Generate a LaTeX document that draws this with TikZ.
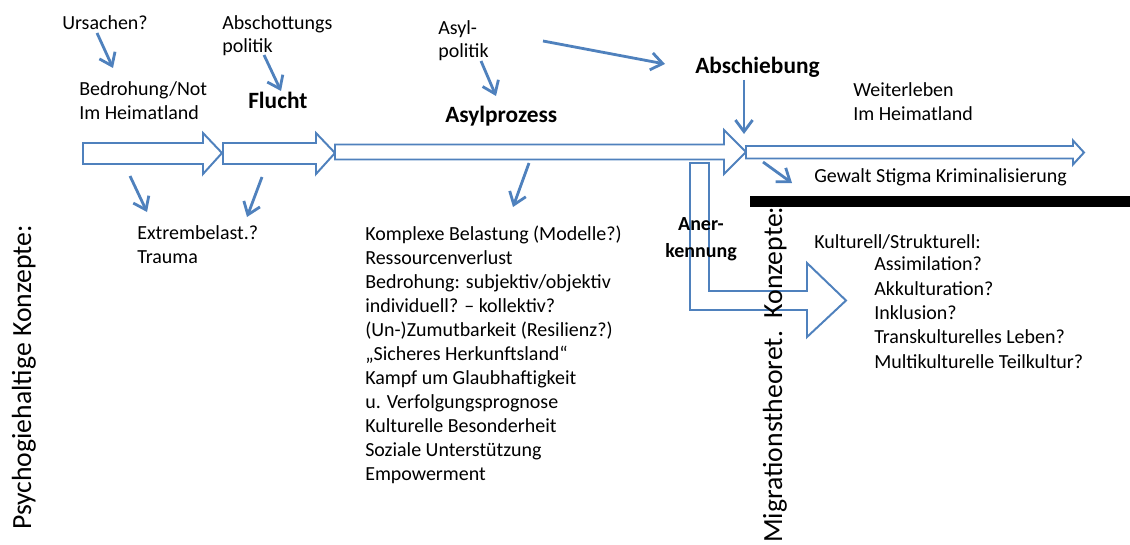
\documentclass[tikz,border=0pt]{standalone}
\usepackage{fontspec}
\setmainfont{Carlito}
\usetikzlibrary{arrows.meta}
\definecolor{cArrow}{HTML}{4F81BD}
\tikzset{
  txt/.style={anchor=base west, inner sep=0pt, align=left,
    font=\fontsize{14.2}{17}\selectfont},
  stage/.style={txt, font=\fontsize{16.6}{19}\selectfont\bfseries},
  side/.style={anchor=base west, inner sep=0pt, rotate=90,
    font=\fontsize{19.7}{22}\selectfont},
  block/.style={draw=cArrow, line width=1.4pt, miter limit=20},
  flow/.style={-{Straight Barb[length=2.9mm, width=4.3mm]}, draw=cArrow, line width=2pt},
}
\begin{document}
\begin{tikzpicture}[x=0.025cm, y=-0.025cm]
    \useasboundingbox (0,0) rectangle (1130,545);
    % block arrows: Heimatland | Flucht | Asylprozess | after Abschiebung
    \draw[block, fill=white] (83,143) -- (203,143) -- (203,133) -- (222,153) -- (203,174) -- (203,164) -- (83,164) -- cycle;
    \draw[block, fill=white] (223,143) -- (316,143) -- (316,133) -- (335,153) -- (316,174) -- (316,164) -- (223,164) -- cycle;
    \draw[block, fill=white] (335,144.5) -- (724,144.5) -- (724,130) -- (746,152) -- (724,174) -- (724,159.5) -- (335,159.5) -- cycle;
    \draw[block, fill=white] (746,146) -- (1073,146) -- (1073,140.5) -- (1084,152.5) -- (1073,164.5) -- (1073,158.5) -- (746,158.5) -- cycle;
    % bent arrow towards recognition
    \draw[block] (690,163) -- (709,163) -- (709,291) -- (807,291) -- (807,263) -- (846,300.5) -- (807,337) -- (807,310) -- (690,310) -- cycle;
    % separator
    \fill[black] (750,196) rectangle (1130,207);
    % labels above the path (multi-line nodes sit on their last baseline)
    \node[txt] (ursachen) at (62,30) {Ursachen?};
    \node[txt] (abschottung) at (222,53) {Abschottungs\\politik};
    \node[txt] (bedrohung) at (79,119) {Bedrohung/Not\\Im Heimatland};
    \node[stage] (flucht) at (248,109) {Flucht};
    \node[txt] (asylpol) at (438,58) {Asyl-\\politik};
    \node[stage] (asylprozess) at (445,122) {Asylprozess};
    \node[stage] (abschiebung) at (695,74) {Abschiebung};
    \node[txt] (weiterleben) at (853,120) {Weiterleben\\Im Heimatland};
    \node[txt] (gewalt) at (814,182) {Gewalt Stigma Kriminalisierung};
    % labels below the path
    \node[txt] (extrem) at (137,263) {Extrembelast.?\\Trauma};
    \node[txt] (belastung) at (365,480) {Komplexe Belastung (Modelle?)\\Ressourcenverlust\\
      Bedrohung: subjektiv/objektiv\\individuell? – kollektiv?\\(Un-)Zumutbarkeit (Resilienz?)\\
      „Sicheres Herkunftsland“\\Kampf um Glaubhaftigkeit\\u. Verfolgungsprognose\\
      Kulturelle Besonderheit\\Soziale Unterstützung\\Empowerment};
    \node[txt, anchor=base, align=center, font=\fontsize{14.2}{19.2}\selectfont\bfseries]
      (anerkennung) at (701,257) {Aner-\\kennung};
    \node[txt] (kulturell) at (814,248) {Kulturell/Strukturell:};
    \node[txt, font=\fontsize{14.2}{17.3}\selectfont] (modelle) at (874,368)
      {Assimilation?\\Akkulturation?\\Inklusion?\\Transkulturelles Leben?\\Multikulturelle Teilkultur?};
    \node[side] (psycho) at (31,530) {Psychogiehaltige Konzepte:};
    \node[side] (migration) at (782,543) {Migrationstheoret.\ \ Konzepte:};
    % influences
    \coordinate (u1) at (97,33);   \coordinate (u2) at (113,68);
    \coordinate (a1) at (264,55);  \coordinate (a2) at (281,91);
    \coordinate (b1) at (130,176); \coordinate (b2) at (147,212);
    \coordinate (f1) at (262,177); \coordinate (f2) at (247,217);
    \coordinate (p1) at (481,61);  \coordinate (p2) at (496,96);
    \coordinate (q1) at (543,41);  \coordinate (q2) at (665,64);
    \coordinate (s1) at (744,80);  \coordinate (s2) at (744,134);
    \coordinate (k1) at (529,163); \coordinate (k2) at (513,207);
    \coordinate (g1) at (763,162); \coordinate (g2) at (792,183);
    \draw[flow] (u1) -- (u2);
    \draw[flow] (a1) -- (a2);
    \draw[flow] (b1) -- (b2);
    \draw[flow] (f1) -- (f2);
    \draw[flow] (p1) -- (p2);
    \draw[flow] (q1) -- (q2);
    \draw[flow] (s1) -- (s2);
    \draw[flow] (k1) -- (k2);
    \draw[flow] (g1) -- (g2);
\end{tikzpicture}
\end{document}
